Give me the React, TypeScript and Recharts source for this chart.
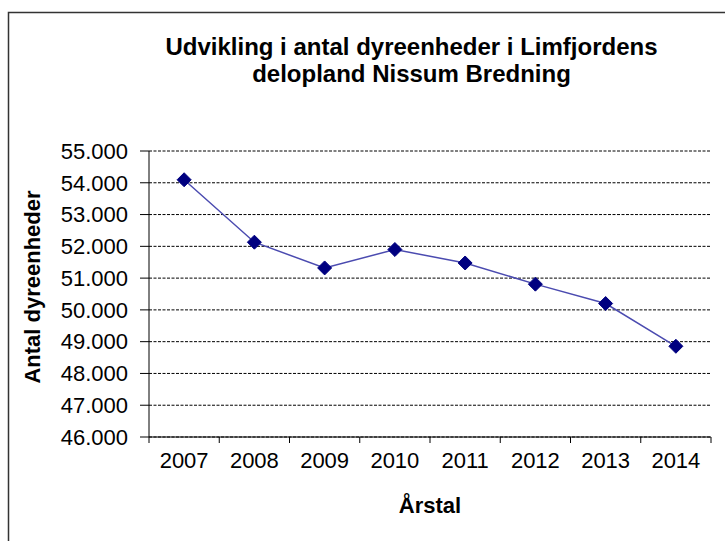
import React from 'react';
import { LineChart, Line, XAxis, YAxis, CartesianGrid } from 'recharts';

const years = ['2007', '2008', '2009', '2010', '2011', '2012', '2013', '2014'];
const animalUnits = [54095, 52130, 51320, 51900, 51476, 50810, 50200, 48855];
const yTicks = [46000, 47000, 48000, 49000, 50000, 51000, 52000, 53000, 54000, 55000];
const centerTicks = [0, 1, 2, 3, 4, 5, 6, 7];
const boundaryTicks = [-0.5, 0.5, 1.5, 2.5, 3.5, 4.5, 5.5, 6.5, 7.5];

const data = years.map((y, i) => ({ idx: i, year: y, value: animalUnits[i] }));

const FONT = '"Liberation Sans", Arial, sans-serif';

const Diamond = (props: any) => {
  const { cx, cy } = props;
  if (cx == null || cy == null) return null;
  const r = 7;
  return (
    <polygon
      points={`${cx},${cy - r} ${cx + r},${cy} ${cx},${cy + r} ${cx - r},${cy}`}
      fill="#000080"
      stroke="#000080"
      strokeWidth={1}
    />
  );
};

const EmptyTick = () => <g />;

export default function App() {
  return (
    <div style={{ position: 'absolute', left: 0, top: 0, width: 725, height: 541, background: '#fff', fontFamily: FONT, overflow: 'hidden' }}>
      <svg width={725} height={541} style={{ position: 'absolute', left: 0, top: 0 }}>
        <rect x={8.5} y={12.5} width={740} height={560} fill="none" stroke="#333" strokeWidth={1.5} />
      </svg>
      <div style={{ position: 'absolute', left: 0, top: 0 }}>
        <LineChart
          width={725}
          height={541}
          data={data}
          margin={{ top: 151, right: 14, left: 0, bottom: 74 }}
        >
          <CartesianGrid horizontal vertical={false} stroke="#000" strokeDasharray="3 1.5" strokeWidth={1} />
          <XAxis
            xAxisId="tk"
            dataKey="idx"
            type="number"
            domain={[-0.5, 7.5]}
            ticks={boundaryTicks}
            tick={<EmptyTick />}
            tickSize={6}
            tickMargin={0}
            height={1}
            interval={0}
            axisLine={{ stroke: '#000', strokeWidth: 1 }}
            tickLine={{ stroke: '#000', strokeWidth: 1 }}
            allowDecimals
          />
          <XAxis
            xAxisId="yr"
            dataKey="idx"
            type="number"
            domain={[-0.5, 7.5]}
            ticks={centerTicks}
            tickFormatter={(v: number) => years[v] ?? ''}
            tickLine={false}
            axisLine={false}
            tickSize={0}
            tickMargin={14}
            height={29}
            interval={0}
            tick={{ fill: '#000', fontSize: 22, fontFamily: FONT }}
          />
          <YAxis
            domain={[46000, 55000]}
            ticks={yTicks}
            interval={0}
            width={149}
            tickSize={9}
            tickMargin={12}
            tickFormatter={(v: number) => (v / 1000).toFixed(3)}
            axisLine={{ stroke: '#000', strokeWidth: 1 }}
            tickLine={{ stroke: '#000', strokeWidth: 1 }}
            tick={{ fill: '#000', fontSize: 22, fontFamily: FONT }}
          />
          <Line
            xAxisId="yr"
            type="linear"
            dataKey="value"
            stroke="#4b4bb0"
            strokeWidth={1.5}
            dot={<Diamond />}
            activeDot={false}
            isAnimationActive={false}
          />
        </LineChart>
      </div>
      <div style={{ position: 'absolute', left: 0, width: 823, top: 33, textAlign: 'center', fontWeight: 'bold', fontSize: 24, lineHeight: '27px', color: '#000' }}>
        Udvikling i antal dyreenheder i Limfjordens<br />delopland Nissum Bredning
      </div>
      <div style={{ position: 'absolute', left: 33, top: 287, width: 0, height: 0 }}>
        <div style={{ position: 'absolute', transform: 'translate(-50%, -50%) rotate(-90deg)', whiteSpace: 'nowrap', fontWeight: 'bold', fontSize: 22, color: '#000' }}>
          Antal dyreenheder
        </div>
      </div>
      <div style={{ position: 'absolute', left: 430, top: 506, width: 0, height: 0 }}>
        <div style={{ position: 'absolute', transform: 'translate(-50%, -50%)', whiteSpace: 'nowrap', fontWeight: 'bold', fontSize: 22, color: '#000' }}>
          Årstal
        </div>
      </div>
    </div>
  );
}
